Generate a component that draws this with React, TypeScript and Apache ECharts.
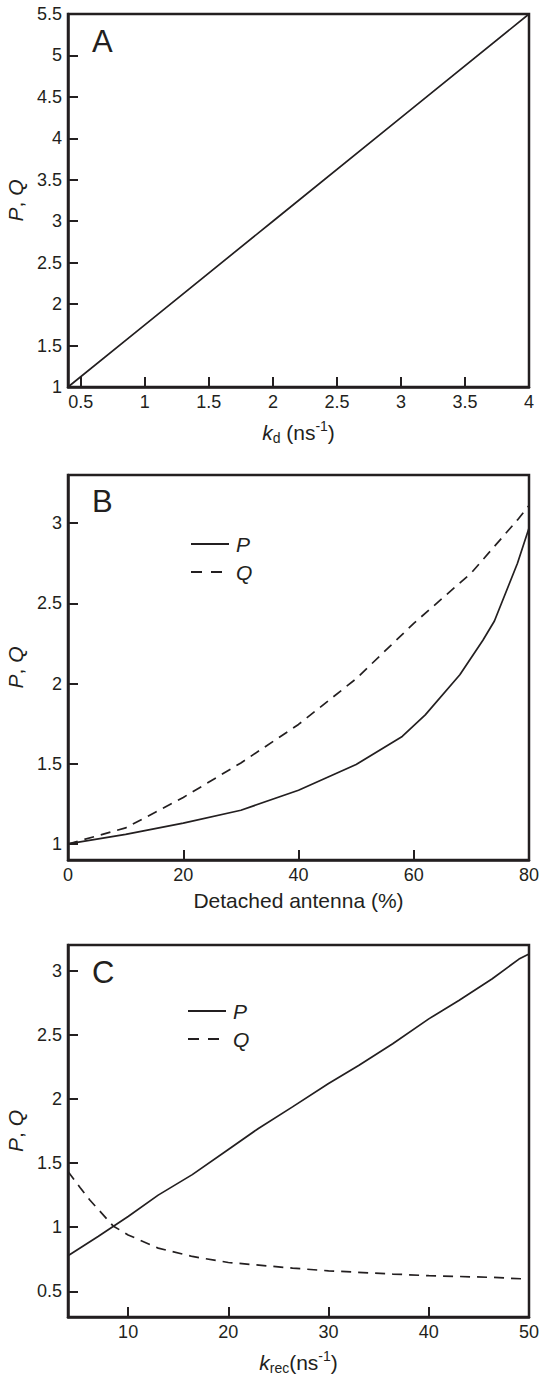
import React, { useEffect, useRef } from 'react';
import * as echarts from 'echarts';

const INK = '#231f20';
const FONT = '"Liberation Sans", Arial, Helvetica, sans-serif';

// Panel A: P and Q coincide
const aX = [0.4, 1, 2, 3, 4];
const aPQ = [1.0, 1.75, 3.0, 4.25, 5.5];
const aXTicks = [0.5, 1, 1.5, 2, 2.5, 3, 3.5, 4];
const aYTicks = [1, 1.5, 2, 2.5, 3, 3.5, 4, 4.5, 5, 5.5];

// Panel B
const bPX = [0, 10, 20, 30, 40, 50, 58, 62, 68, 72, 74, 78, 80];
const bP = [1.0, 1.06, 1.13, 1.21, 1.335, 1.495, 1.67, 1.805, 2.055, 2.27, 2.39, 2.75, 2.97];
const bQX = [0, 10, 20, 30, 40, 50, 60, 70, 78, 80];
const bQ = [1.0, 1.1, 1.29, 1.505, 1.745, 2.03, 2.375, 2.69, 3.02, 3.11];
const bXTicks = [0, 20, 40, 60, 80];
const bYTicks = [1, 1.5, 2, 2.5, 3];

// Panel C
const cPX = [4, 7, 10, 13, 16.4, 20, 23, 26.4, 30, 33, 36.4, 40, 43, 46.3, 49, 50];
const cP = [0.777, 0.927, 1.083, 1.25, 1.41, 1.606, 1.77, 1.938, 2.12, 2.26, 2.43, 2.624, 2.767, 2.935, 3.09, 3.13];
const cQX = [4, 5.2, 6.2, 8.5, 10, 13, 16.4, 20, 26.4, 30, 36.4, 40, 46.3, 50];
const cQ = [1.435, 1.31, 1.21, 1.01, 0.94, 0.837, 0.772, 0.725, 0.681, 0.66, 0.635, 0.622, 0.609, 0.595];
const cXTicks = [10, 20, 30, 40, 50];
const cYTicks = [0.5, 1, 1.5, 2, 2.5, 3];

const zip = (xs: number[], ys: number[]) => xs.map((x, i) => [x, ys[i]]);

const richName = {
  i: { fontStyle: 'italic', fontSize: 21, lineHeight: 26, fontFamily: FONT, color: INK },
  n: { fontSize: 21, lineHeight: 26, fontFamily: FONT, color: INK },
  sub: { fontSize: 14, verticalAlign: 'bottom', fontFamily: FONT, color: INK },
  sup: { fontSize: 14, verticalAlign: 'top', fontFamily: FONT, color: INK },
};

function xAxisCfg(idx: number, min: number, max: number, ticks: number[], name: string, gap: number) {
  return {
    type: 'value',
    gridIndex: idx,
    min,
    max,
    splitLine: { show: false },
    axisLine: { show: true, onZero: false, lineStyle: { color: INK, width: 2.5 } },
    axisTick: { show: true, inside: true, length: 10, customValues: ticks, lineStyle: { color: INK, width: 2 } },
    axisLabel: { customValues: ticks, margin: 6, color: INK, fontSize: 18, fontFamily: FONT },
    name,
    nameLocation: 'middle',
    nameGap: gap,
    nameTextStyle: { fontSize: 21, fontFamily: FONT, color: INK, rich: richName },
  };
}

function yAxisCfg(idx: number, min: number, max: number, ticks: number[]) {
  return {
    type: 'value',
    gridIndex: idx,
    min,
    max,
    splitLine: { show: false },
    axisLine: { show: true, onZero: false, lineStyle: { color: INK, width: 2.5 } },
    axisTick: { show: true, inside: true, length: 10, customValues: ticks, lineStyle: { color: INK, width: 2 } },
    axisLabel: { customValues: ticks, margin: 6, color: INK, fontSize: 18, fontFamily: FONT },
    name: '{i|P}{n|, }{i|Q}',
    nameLocation: 'middle',
    nameGap: 37,
    nameTextStyle: { fontSize: 21, fontFamily: FONT, color: INK, rich: richName },
  };
}

function lineSeries(name: string, idx: number, data: number[][], dashed: boolean) {
  return {
    type: 'line',
    name,
    xAxisIndex: idx,
    yAxisIndex: idx,
    data,
    symbol: 'none',
    showSymbol: false,
    smooth: false,
    lineStyle: { color: INK, width: 1.7, type: dashed ? [10, 7] : 'solid' },
    itemStyle: { color: INK },
  };
}

function legendCfg(left: number, top: number) {
  return {
    orient: 'vertical',
    left,
    top,
    padding: 0,
    itemGap: 6,
    itemWidth: 38,
    itemHeight: 14,
    selectedMode: false,
    itemStyle: { color: 'rgba(0,0,0,0)', borderWidth: 0, opacity: 0 },
    data: [
      { name: 'P' },
      { name: 'Q', lineStyle: { type: [11, 9] } },
    ],
    textStyle: { fontSize: 21, fontStyle: 'italic', lineHeight: 22, color: INK, fontFamily: FONT, padding: [0, 0, 0, 2] },
  };
}

function panelLetter(text: string, y: number) {
  return {
    type: 'text',
    x: 92,
    y,
    style: { text, fontSize: 31, fontFamily: FONT, fill: INK, verticalAlign: 'middle', align: 'left' },
  };
}

export default function App() {
  const ref = useRef<HTMLDivElement>(null);
  useEffect(() => {
    if (!ref.current) return;
    const chart = echarts.init(ref.current, undefined, { renderer: 'svg' });
    const gridBase = { show: true, borderColor: INK, borderWidth: 2.5, containLabel: false, outerBoundsMode: 'none', left: 68, width: 461 };
    chart.setOption({
      animation: false,
      backgroundColor: '#ffffff',
      grid: [
        { ...gridBase, top: 14, height: 373 },
        { ...gridBase, top: 475, height: 385 },
        { ...gridBase, top: 945, height: 372 },
      ],
      xAxis: [
        xAxisCfg(0, 0.4, 4, aXTicks, '{i|k}{sub|d}{n| (ns}{sup|-1}{n|)}', 32),
        xAxisCfg(1, 0, 80, bXTicks, '{n|Detached antenna (%)}', 27),
        xAxisCfg(2, 4, 50, cXTicks, '{i|k}{sub|rec}{n|(ns}{sup|-1}{n|)}', 32),
      ],
      yAxis: [
        yAxisCfg(0, 1, 5.5, aYTicks),
        yAxisCfg(1, 0.9, 3.3, bYTicks),
        yAxisCfg(2, 0.3, 3.2, cYTicks),
      ],
      legend: [legendCfg(190, 533), legendCfg(187, 1000)],
      graphic: [panelLetter('A', 41.5), panelLetter('B', 501.5), panelLetter('C', 972.5)],
      series: [
        lineSeries('P, Q', 0, zip(aX, aPQ), false),
        lineSeries('P', 1, zip(bPX, bP), false),
        lineSeries('Q', 1, zip(bQX, bQ), true),
        lineSeries('P', 2, zip(cPX, cP), false),
        lineSeries('Q', 2, zip(cQX, cQ), true),
      ],
    });
    return () => chart.dispose();
  }, []);
  return <div ref={ref} style={{ position: 'fixed', left: 0, top: 0, width: 544, height: 1382, background: '#fff' }} />;
}
